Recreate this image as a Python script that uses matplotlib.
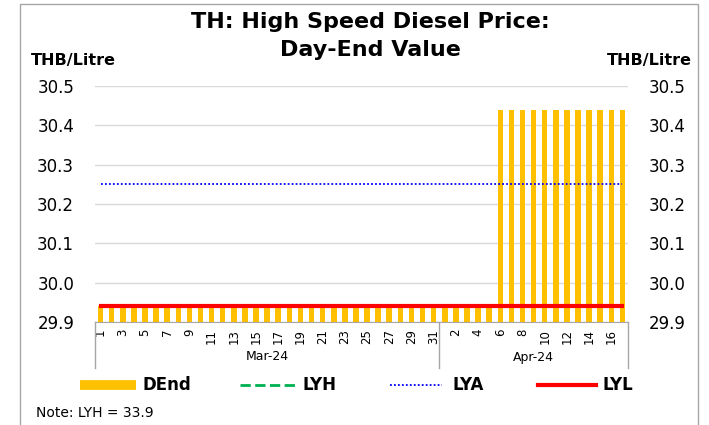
import matplotlib
matplotlib.use("Agg")
import matplotlib.pyplot as plt
from matplotlib.lines import Line2D
from matplotlib.patches import Rectangle

plt.rcParams["font.family"] = ["DejaVu Sans"]

# data: Mar-24 (1..31) + Apr-24 (1..17)
mar_days = list(range(1, 32))
apr_days = list(range(1, 18))
dend_mar = [29.94] * 31
dend_apr = [29.94] * 5 + [30.44] * 12
LYH, LYA, LYL = 33.9, 30.25, 29.94
yticks = [29.9, 30.0, 30.1, 30.2, 30.3, 30.4, 30.5]

days = mar_days + apr_days
dend = dend_mar + dend_apr
n = len(days)
x = list(range(n))

W, H = 709, 425
fig = plt.figure(figsize=(W / 100, H / 100), dpi=100)


def fx(px):
    return px / W


def fy(py):
    return 1 - py / H


# outer frame
fig.patches.append(Rectangle((fx(20), fy(440)), fx(698) - fx(20), fy(4) - fy(440),
                             transform=fig.transFigure, fill=False, ec="#A6A6A6", lw=1))

L, R, T, B = 95, 628, 86, 322
ax = fig.add_axes([fx(L), fy(B), fx(R) - fx(L), fy(T) - fy(B)])
ax.bar(x, [v - 29.9 for v in dend], bottom=29.9, width=0.5, color="#FFC000", zorder=2)
ax.plot(x, [LYH] * n, color="#00B050", ls="--", lw=2, zorder=3)
ax.plot(x, [LYA] * n, color="#0000FF", ls=(0, (1, 1.2)), lw=1.3, zorder=3)
ax.plot(x, [LYL] * n, color="#FF0000", lw=3, zorder=4)

ax.set_xlim(-0.5, n - 0.5)
ax.set_ylim(29.9, 30.5)
ax.set_yticks(yticks)
ax.set_yticklabels([f"{v:.1f}" for v in yticks], fontsize=12)
ax.tick_params(axis="y", length=0, pad=15, labelright=True, labelsize=12)
ax.grid(axis="y", color="#D9D9D9", lw=1, zorder=0)
for s in ("top", "left", "right"):
    ax.spines[s].set_visible(False)
ax.spines["bottom"].set_color("#A6A6A6")

xt = list(range(0, n, 2))
ax.set_xticks(xt)
ax.set_xticklabels([str(days[i]) for i in xt], rotation=90, fontsize=8.5)
ax.tick_params(axis="x", length=0, pad=5)

# month grouping
tr = ax.get_xaxis_transform()
sep_h = (368 - B) / (B - T)
for xs in (-0.5, len(mar_days) - 0.5, n - 0.5):
    ax.add_line(Line2D([xs, xs], [0, -sep_h], transform=tr, color="#A6A6A6", lw=1, clip_on=False))
ax.text((len(mar_days) - 1) / 2, -(357 - B) / (B - T), "Mar-24", transform=tr,
        ha="center", va="center", fontsize=9)
ax.text(len(mar_days) + (len(apr_days) - 1) / 2, -(357 - B) / (B - T), "Apr-24", transform=tr,
        ha="center", va="center", fontsize=9)

# titles and units
fig.text(fx(370), fy(22), "TH: High Speed Diesel Price:", ha="center", va="center",
         fontsize=16, fontweight="bold")
fig.text(fx(370), fy(50), "Day-End Value", ha="center", va="center",
         fontsize=16, fontweight="bold")
fig.text(fx(31), fy(61), "THB/Litre", ha="left", va="center", fontsize=11.5, fontweight="bold")
fig.text(fx(692), fy(61), "THB/Litre", ha="right", va="center", fontsize=11.5, fontweight="bold")

# legend (manual)
ly = fy(385)
items = [
    (80, 136, dict(color="#FFC000", lw=7, solid_capstyle="butt"), 143, "DEnd"),
    (240, 298, dict(color="#00B050", lw=2, ls="--"), 303, "LYH"),
    (390, 442, dict(color="#0000FF", lw=1.3, ls=(0, (1, 1.2))), 452, "LYA"),
    (538, 596, dict(color="#FF0000", lw=3), 602, "LYL"),
]
for x0, x1, st, tx, name in items:
    fig.add_artist(Line2D([fx(x0), fx(x1)], [ly, ly], transform=fig.transFigure, **st))
    fig.text(fx(tx), ly, name, ha="left", va="center", fontsize=12, fontweight="bold")

fig.text(fx(36), fy(413), "Note: LYH = 33.9", ha="left", va="center", fontsize=10)

fig.savefig("out.png", dpi=100)
